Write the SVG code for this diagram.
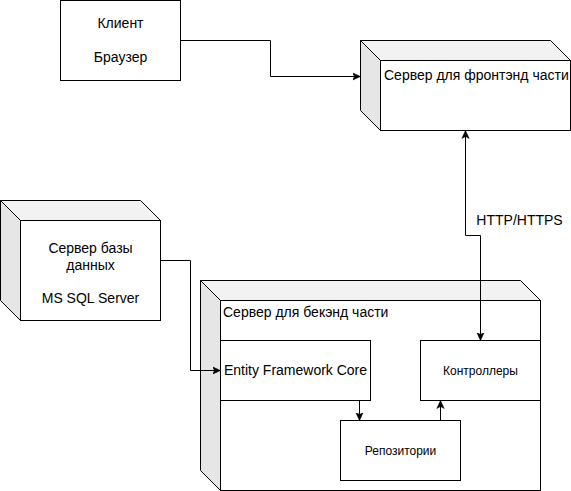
<svg xmlns="http://www.w3.org/2000/svg" width="571" height="491" viewBox="0 0 571 491">
<style>
.box{fill:#fff;stroke:#000;stroke-width:1}
.top{fill:#f2f2f2;stroke:#000;stroke-width:1}
.side{fill:#e6e6e6;stroke:#000;stroke-width:1}
.t{font-family:"Liberation Sans",Arial,sans-serif;font-size:14px;fill:#000}
.s{font-family:"Liberation Sans",Arial,sans-serif;font-size:12px;fill:#000}
.m{text-anchor:middle}
.c{fill:none;stroke:#000;stroke-width:1}
</style>
<defs>
<marker id="arr" markerUnits="userSpaceOnUse" markerWidth="9" markerHeight="9" refX="8" refY="4" orient="auto-start-reverse" viewBox="0 0 9 8">
<path d="M8,4 L0,0.3 L2,4 L0,7.7 Z" fill="#000" stroke="#000" stroke-width="0.5"/>
</marker>
</defs>
<rect width="571" height="491" fill="#fff"/>

<g id="client">
<rect class="box" x="60.5" y="0.5" width="120" height="80"/>
<text class="t m" x="120.5" y="28">Клиент</text>
<text class="t m" x="120.5" y="62">Браузер</text>
</g>

<g id="frontend">
<polygon class="top" points="360.5,40.5 550.5,40.5 570.5,60.5 380.5,60.5"/>
<polygon class="side" points="360.5,40.5 380.5,60.5 380.5,130.5 360.5,110.5"/>
<rect class="box" x="380.5" y="60.5" width="190" height="70"/>
<text class="t" x="384" y="80">Сервер для фронтэнд части</text>
</g>

<g id="database">
<polygon class="top" points="0.5,200.5 140.5,200.5 160.5,220.5 20.5,220.5"/>
<polygon class="side" points="0.5,200.5 20.5,220.5 20.5,320.5 0.5,300.5"/>
<rect class="box" x="20.5" y="220.5" width="140" height="100"/>
<text class="t m" x="90.5" y="253">Сервер базы</text>
<text class="t m" x="90.5" y="270">данных</text>
<text class="t m" x="90.5" y="303">MS SQL Server</text>
</g>

<g id="backend">
<polygon class="top" points="200.5,280.5 520.5,280.5 540.5,300.5 220.5,300.5"/>
<polygon class="side" points="200.5,280.5 220.5,300.5 220.5,490.5 200.5,470.5"/>
<rect class="box" x="220.5" y="300.5" width="320" height="190"/>
<text class="t" x="223" y="317">Сервер для бекэнд части</text>
</g>

<g id="ef">
<rect class="box" x="220.5" y="340.5" width="150" height="60"/>
<text class="t m" x="295.5" y="375">Entity Framework Core</text>
</g>

<g id="controllers">
<rect class="box" x="420.5" y="340.5" width="120" height="60"/>
<text class="s m" x="480.5" y="374.5">Контроллеры</text>
</g>

<g id="repositories">
<rect class="box" x="340.5" y="420.5" width="120" height="60"/>
<text class="s m" x="400.5" y="454.5">Репозитории</text>
</g>

<g id="connectors">
<path class="c" d="M180.5,40.5 H270.5 V76.5 H360.5" marker-end="url(#arr)"/>
<path class="c" d="M160.5,260.5 H190.5 V370.5 H220.5" marker-end="url(#arr)"/>
<path class="c" d="M465.5,130.5 V235.5 H480.5 V340.5" marker-start="url(#arr)" marker-end="url(#arr)"/>
<path class="c" d="M359.5,400.5 V420.5" marker-end="url(#arr)"/>
<path class="c" d="M440.5,420.5 V400.5" marker-end="url(#arr)"/>
<text class="t m" x="519.5" y="225">HTTP/HTTPS</text>
</g>
</svg>
